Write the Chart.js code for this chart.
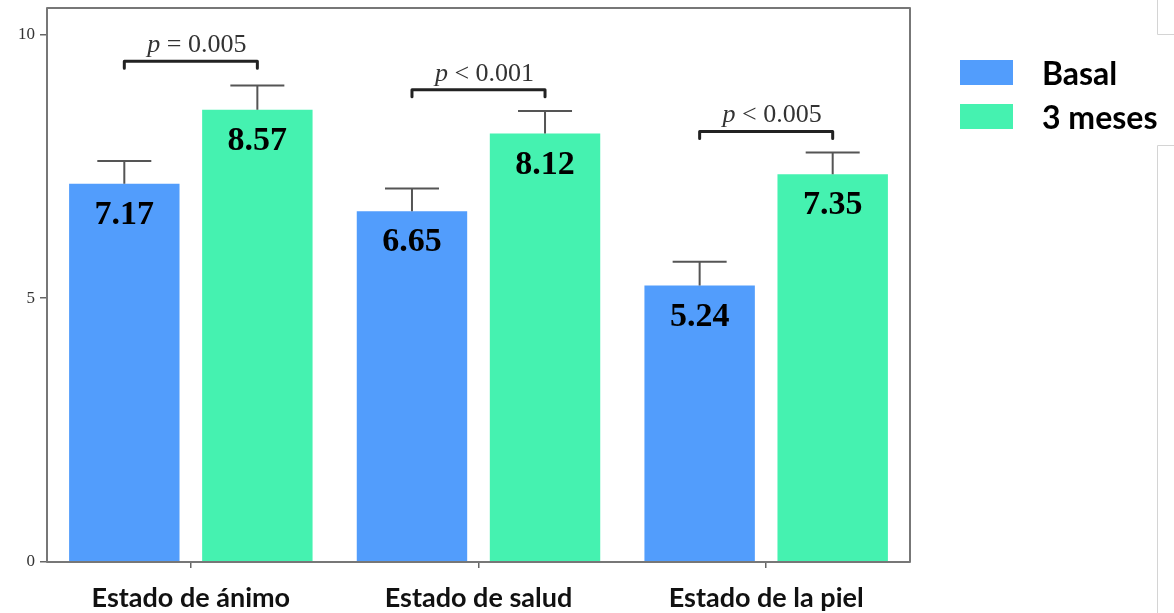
<!DOCTYPE html>
<html lang="es">
<head>
<meta charset="utf-8">
<title>Estado de ánimo, salud y piel</title>
<script src="https://cdn.jsdelivr.net/npm/chart.js@4.4.1/dist/chart.umd.min.js"></script>
<style>
    html, body { margin: 0; padding: 0; background: #fff; }
    #wrap { position: relative; width: 1174px; height: 613px; }
    #legend { position: absolute; left: 960px; top: 50px; font-family: Lato, "Open Sans", sans-serif; font-weight: bold; font-size: 32px; color: #000; }
    #legend .row { display: flex; align-items: center; height: 44px; }
    #legend .sw { width: 53px; height: 25px; margin-right: 29px; }
</style>
</head>
<body>
<div id="wrap">
    <canvas id="grafico" width="1174" height="613"></canvas>
    <div id="legend"></div>
</div>

<script type="text/javascript">

    const categorias = ["Estado de ánimo", "Estado de salud", "Estado de la piel"];
    const seriesNombres = ["Basal", "3 meses"];
    const basal = [7.17, 6.65, 5.24];
    const tresMeses = [8.57, 8.12, 7.35];
    const basalError = [0.43, 0.43, 0.45];
    const tresMesesError = [0.46, 0.43, 0.41];
    const pTextos = ["= 0.005", "< 0.001", "< 0.005"];
    const pNiveles = [9.49, 8.95, 8.16];
    const yTicks = [0, 5, 10];
    const colores = ["#529dfc", "#45f2b0"];

    // leyenda en HTML a la derecha
    const legendEl = document.getElementById("legend");
    seriesNombres.forEach((nombre, i) => {
        const row = document.createElement("div");
        row.className = "row";
        const sw = document.createElement("div");
        sw.className = "sw";
        sw.style.background = colores[i];
        const txt = document.createElement("span");
        txt.textContent = nombre;
        row.appendChild(sw);
        row.appendChild(txt);
        legendEl.appendChild(row);
    });

    const errores = [basalError, tresMesesError];

    // marco, barras de error, etiquetas de valor y corchetes con p
    const extras = {
        id: "extras",
        afterDatasetsDraw(chart) {
            const ctx = chart.ctx;
            const area = chart.chartArea;
            const y = chart.scales.y;

            ctx.save();
            // barras de error
            ctx.strokeStyle = "#555";
            ctx.lineWidth = 2;
            chart.data.datasets.forEach((ds, di) => {
                chart.getDatasetMeta(di).data.forEach((bar, i) => {
                    const top = y.getPixelForValue(ds.data[i] + errores[di][i]);
                    ctx.beginPath();
                    ctx.moveTo(bar.x, bar.y);
                    ctx.lineTo(bar.x, top);
                    ctx.moveTo(bar.x - 27, top);
                    ctx.lineTo(bar.x + 27, top);
                    ctx.stroke();
                });
            });

            // valores dentro de las barras
            ctx.fillStyle = "#000";
            ctx.font = "bold 34px 'Liberation Serif', 'DejaVu Serif', serif";
            ctx.textAlign = "center";
            ctx.textBaseline = "alphabetic";
            chart.data.datasets.forEach((ds, di) => {
                chart.getDatasetMeta(di).data.forEach((bar, i) => {
                    ctx.fillText(ds.data[i].toFixed(2), bar.x, bar.y + 40);
                });
            });

            // corchetes de significación
            const m0 = chart.getDatasetMeta(0).data;
            const m1 = chart.getDatasetMeta(1).data;
            pTextos.forEach((t, i) => {
                const x0 = m0[i].x, x1 = m1[i].x;
                const yb = y.getPixelForValue(pNiveles[i]);
                ctx.strokeStyle = "#222";
                ctx.lineWidth = 3;
                ctx.lineJoin = "round";
                ctx.lineCap = "round";
                ctx.beginPath();
                ctx.moveTo(x0, yb + 7);
                ctx.lineTo(x0, yb);
                ctx.lineTo(x1, yb);
                ctx.lineTo(x1, yb + 7);
                ctx.stroke();

                ctx.fillStyle = "#333";
                ctx.textBaseline = "alphabetic";
                ctx.textAlign = "left";
                ctx.font = "italic 26px 'Liberation Serif', serif";
                const wp = ctx.measureText("p").width;
                ctx.font = "26px 'Liberation Serif', serif";
                const wr = ctx.measureText(" " + t).width;
                const cx = (x0 + x1) / 2 + 6;
                const sx = cx - (wp + wr) / 2;
                ctx.font = "italic 26px 'Liberation Serif', serif";
                ctx.fillText("p", sx, yb - 9);
                ctx.font = "26px 'Liberation Serif', serif";
                ctx.fillText(" " + t, sx + wp, yb - 9);
            });

            // marco del área de trazado
            ctx.strokeStyle = "#777";
            ctx.lineWidth = 2;
            ctx.lineCap = "butt";
            ctx.strokeRect(area.left, area.top, area.right - area.left, area.bottom - area.top);
            ctx.restore();
        },
        afterDraw(chart) {
            // bordes grises del recuadro a la derecha
            const ctx = chart.ctx;
            ctx.save();
            ctx.strokeStyle = "#d4d4d4";
            ctx.lineWidth = 1;
            ctx.beginPath();
            ctx.moveTo(1157.5, 0);
            ctx.lineTo(1157.5, 34.5);
            ctx.lineTo(1174, 34.5);
            ctx.moveTo(1174, 145.5);
            ctx.lineTo(1157.5, 145.5);
            ctx.lineTo(1157.5, 613);
            ctx.stroke();
            ctx.restore();
        }
    };

    new Chart("grafico", {
        type: "bar",
        data: {
            labels: categorias,
            datasets: [
                {
                    label: seriesNombres[0],
                    data: basal,
                    backgroundColor: colores[0]
                },
                {
                    label: seriesNombres[1],
                    data: tresMeses,
                    backgroundColor: colores[1]
                }
            ]
        },
        options: {
            responsive: false,
            animation: false,
            events: [],
            layout: {padding: {top: 8, right: 264, left: 0, bottom: 0}},
            datasets: {
                bar: {categoryPercentage: 0.925, barPercentage: 0.83}
            },
            plugins: {
                legend: {display: false},
                tooltip: {enabled: false}
            },
            scales: {
                x: {
                    grid: {display: true, drawOnChartArea: false, offset: false, tickLength: 6, color: "#666", lineWidth: 1.5},
                    border: {display: false},
                    ticks: {
                        color: "#111",
                        padding: 14,
                        font: {family: "Lato, 'Open Sans', sans-serif", weight: "bold", size: 27}
                    },
                    afterFit(scale) { scale.height = 51; scale.paddingLeft = 0; scale.paddingRight = 0; }
                },
                y: {
                    min: 0,
                    max: 10.5,
                    grid: {drawOnChartArea: false, tickLength: 7, color: "#666", lineWidth: 1.5},
                    border: {display: false},
                    ticks: {
                        color: "#333",
                        padding: 5,
                        font: {family: "'Liberation Serif', serif", size: 17}
                    },
                    afterBuildTicks(scale) { scale.ticks = yTicks.map(v => ({value: v})); },
                    afterFit(scale) { scale.width = 47; scale.paddingTop = 0; scale.paddingBottom = 0; }
                }
            }
        },
        plugins: [extras]
    });

</script>
</body>
</html>
